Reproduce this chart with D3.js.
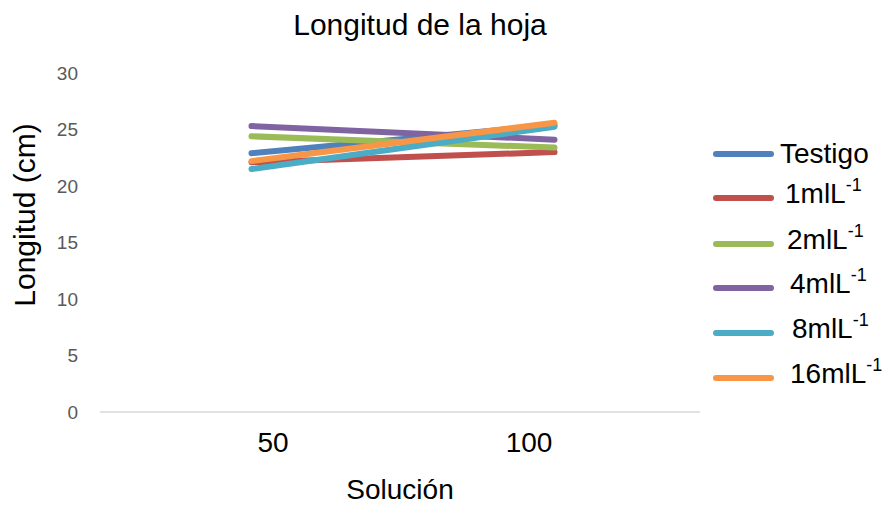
<!DOCTYPE html>
<html>
<head>
<meta charset="utf-8">
<script src="https://cdn.jsdelivr.net/npm/d3@7"></script>
<style>
  html, body { margin: 0; padding: 0; background: #fff; }
  svg { display: block; }
  text { font-family: "Liberation Sans", Arial, sans-serif; }
</style>
</head>
<body>
<svg id="chart" width="888" height="506"></svg>
<script>
// Leaf length by solution level, one series per dose
const categories = ["50", "100"];
const seriesNames = ["Testigo", "1mlL", "2mlL", "4mlL", "8mlL", "16mlL"];
const seriesSup = ["", "-1", "-1", "-1", "-1", "-1"];
const testigo = [22.9, 25.4];
const dose1 = [22.1, 23.0];
const dose2 = [24.4, 23.4];
const dose4 = [25.3, 24.1];
const dose8 = [21.5, 25.25];
const dose16 = [22.2, 25.6];
const yTicks = [0, 5, 10, 15, 20, 25, 30];
const colors = ["#4F81BD", "#C0504D", "#9BBB59", "#8064A2", "#4BACC6", "#F79646"];

const seriesValues = [testigo, dose1, dose2, dose4, dose8, dose16];

const svg = d3.select("#chart");
const plot = { left: 100, right: 706, top: 73, bottom: 412 };

const x = d3.scalePoint().domain(categories).range([plot.left, plot.right]).padding(0.5);
const y = d3.scaleLinear().domain([0, 30]).range([plot.bottom, plot.top]);

// Title
svg.append("text")
  .attr("x", 420).attr("y", 35)
  .attr("text-anchor", "middle")
  .attr("font-size", 30).attr("fill", "#000")
  .text("Longitud de la hoja");

// Y axis labels (no line)
const yAxis = svg.append("g")
  .attr("transform", `translate(${plot.left},0)`)
  .call(d3.axisLeft(y).tickValues(yTicks).tickSize(0).tickPadding(22));
yAxis.select(".domain").remove();
yAxis.selectAll("text")
  .attr("font-family", "'Open Sans', sans-serif")
  .attr("font-size", 19).attr("fill", "#595959");

// Category axis baseline
svg.append("line")
  .attr("x1", plot.left).attr("x2", 700)
  .attr("y1", y(0)).attr("y2", y(0))
  .attr("stroke", "#D9D9D9").attr("stroke-width", 1.5);

const xAxis = svg.append("g")
  .attr("transform", `translate(0,${plot.bottom})`)
  .call(d3.axisBottom(x).tickSize(0).tickPadding(20));
xAxis.select(".domain").remove();
xAxis.selectAll("text")
  .attr("font-family", "'Liberation Sans', Arial, sans-serif")
  .attr("font-size", 28).attr("fill", "#000")
  .attr("dx", (d, i) => i === 0 ? 21 : -26);

// Axis titles
svg.append("text")
  .attr("x", 400).attr("y", 499)
  .attr("text-anchor", "middle")
  .attr("font-size", 28).attr("fill", "#000")
  .text("Solución");

svg.append("text")
  .attr("transform", "translate(35,215) rotate(-90)")
  .attr("text-anchor", "middle")
  .attr("font-size", 30).attr("fill", "#000")
  .text("Longitud (cm)");

// Series lines
const line = d3.line()
  .x((d, i) => x(categories[i]))
  .y(d => y(d));

svg.append("g").selectAll("path")
  .data(seriesValues)
  .join("path")
  .attr("d", d => line(d))
  .attr("fill", "none")
  .attr("stroke", (d, i) => colors[i])
  .attr("stroke-width", 6)
  .attr("stroke-linecap", "round");

// Legend
const legendY = [154, 198, 244, 288, 333, 378];
const legendTextX = [780, 785, 787, 790, 792, 790];
const legend = svg.append("g");
seriesNames.forEach((name, i) => {
  legend.append("line")
    .attr("x1", 716).attr("x2", 771)
    .attr("y1", legendY[i]).attr("y2", legendY[i])
    .attr("stroke", colors[i]).attr("stroke-width", 6)
    .attr("stroke-linecap", "round");
  const t = legend.append("text")
    .attr("x", legendTextX[i]).attr("y", legendY[i] + 9 - (i === 0 ? 0 : 4))
    .attr("font-size", 28).attr("fill", "#000")
    .text(name);
  if (seriesSup[i]) {
    t.append("tspan")
      .attr("dy", -12).attr("font-size", 18)
      .text(seriesSup[i]);
  }
});
</script>
</body>
</html>
